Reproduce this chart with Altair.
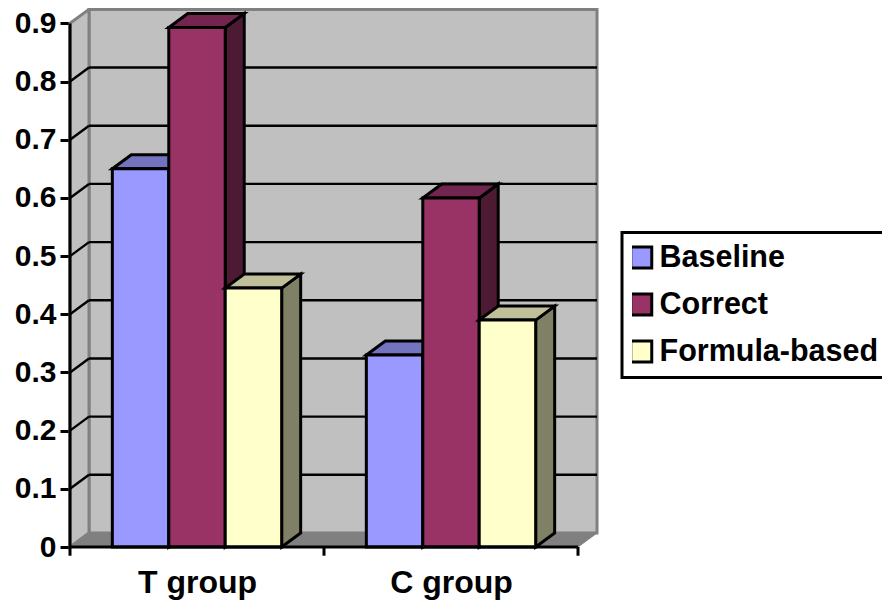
import altair as alt
import pandas as pd

categories = ["T group", "C group"]
series = ["Baseline", "Correct", "Formula-based"]
t_values = [0.65, 0.893, 0.445]
c_values = [0.33, 0.6, 0.39]
front_colors = ["#9999FF", "#993366", "#FFFFCC"]
top_colors = ["#7373BF", "#73264D", "#BFBF99"]
side_colors = ["#4D4D80", "#4D1A33", "#808066"]
y_ticks = [0, 0.1, 0.2, 0.3, 0.4, 0.5, 0.6, 0.7, 0.8, 0.9]

FONT = "Liberation Sans"
BAR_W = 1 / 4.5
GAP = (1 - 3 * BAR_W) / 2
DX = 19 / 254          # depth of the 3-D box, in category units
DY = 14 / 581.8        # depth of the 3-D box, in value units
XMAX = 2 + DX
YMAX = 539 / 581.8
LW = 3
GW = 2.4

xs = alt.Scale(domain=[0, XMAX], range=[0, 527], nice=False, zero=False)
ys = alt.Scale(domain=[0, YMAX], range=[539, 0], nice=False, zero=False)

x_axis = alt.Axis(
    values=[0.5, 1.5],
    labelExpr=f"datum.value < 1 ? '{categories[0]}' : '{categories[1]}'",
    domain=False, ticks=False, grid=False, labelFont=FONT, labelFontSize=32,
    labelFontWeight="bold", labelColor="black", labelPadding=20, labelAngle=0,
    title=None,
)
y_axis = alt.Axis(
    values=y_ticks, format=".1~f", domain=False, grid=False, tickSize=10,
    tickWidth=LW, tickColor="black", labelFont=FONT, labelFontSize=30,
    labelFontWeight="bold", labelColor="black", labelPadding=4, title=None,
)


def X(f="x"):
    return alt.X(f"{f}:Q", scale=xs, axis=x_axis)


def Y(f="y"):
    return alt.Y(f"{f}:Q", scale=ys, axis=y_axis)


def X2(f="x2"):
    return alt.X2(f"{f}:Q")


def Y2(f="y2"):
    return alt.Y2(f"{f}:Q")


layers = []

# back wall
back = alt.Chart(pd.DataFrame([{"x": DX, "x2": 2 + DX, "y": DY, "y2": 0.9 + DY}])).mark_rect(
    fill="#C0C0C0", stroke="#808080", strokeWidth=LW
).encode(x=X(), x2=X2(), y=Y(), y2=Y2())
layers.append(back)

# left wall
left = alt.Chart(pd.DataFrame([
    {"x": 0, "y": 0, "y2": 0.9},
    {"x": DX, "y": DY, "y2": 0.9 + DY},
])).mark_area(fill="#C0C0C0", stroke="#808080", strokeWidth=LW).encode(x=X(), y=Y(), y2=Y2())
layers.append(left)

# floor
floor = alt.Chart(pd.DataFrame([
    {"y": 0, "x": 0, "x2": 2},
    {"y": DY, "x": DX, "x2": 2 + DX},
])).mark_area(fill="#808080", stroke="#808080", strokeWidth=1, orient="horizontal").encode(
    y=Y(), x=X(), x2=X2()
)
layers.append(floor)

# gridlines
grid_vals = y_ticks[1:-1]
layers.append(alt.Chart(pd.DataFrame([
    {"x": DX, "x2": 2 + DX, "y": v + DY} for v in grid_vals
])).mark_rule(color="black", strokeWidth=GW).encode(x=X(), x2=X2(), y=Y()))
diag = []
for v in grid_vals:
    diag.append({"g": v, "x": 0, "y": v})
    diag.append({"g": v, "x": DX, "y": v + DY})
layers.append(alt.Chart(pd.DataFrame(diag)).mark_line(color="black", strokeWidth=GW).encode(
    x=X(), y=Y(), detail="g:N"
))

# bars, painted back to front, series by series
color = alt.Color(
    "series:N",
    scale=alt.Scale(domain=series, range=front_colors),
    legend=alt.Legend(
        orient="none", legendX=552, legendY=224.5, title=None, padding=10,
        fillColor="white", strokeColor="black", symbolType="square", symbolSize=441,
        symbolStrokeWidth=LW, symbolStrokeColor="black", symbolOffset=-6,
        labelFont=FONT, labelFontSize=30.5, labelFontWeight="bold", labelColor="black",
        labelOffset=3, rowPadding=16, labelLimit=400, clipHeight=30,
    ),
)
for s, name in enumerate(series):
    side, top, front = [], [], []
    for c, vals in enumerate([t_values, c_values]):
        x0 = c + GAP + s * BAR_W
        x1 = x0 + BAR_W
        v = vals[s]
        side += [
            {"g": c, "x": x1, "y": 0, "y2": v},
            {"g": c, "x": x1 + DX, "y": DY, "y2": v + DY},
        ]
        top += [
            {"g": c, "y": v, "x": x0, "x2": x1},
            {"g": c, "y": v + DY, "x": x0 + DX, "x2": x1 + DX},
        ]
        front.append({"series": name, "x": x0, "x2": x1, "y": 0, "y2": v})
    layers.append(alt.Chart(pd.DataFrame(side)).mark_area(
        fill=side_colors[s], stroke="black", strokeWidth=LW
    ).encode(x=X(), y=Y(), y2=Y2(), detail="g:N"))
    layers.append(alt.Chart(pd.DataFrame(top)).mark_area(
        fill=top_colors[s], stroke="black", strokeWidth=LW, orient="horizontal"
    ).encode(y=Y(), x=X(), x2=X2(), detail="g:N"))
    layers.append(alt.Chart(pd.DataFrame(front)).mark_bar(
        stroke="black", strokeWidth=LW
    ).encode(x=X(), x2=X2(), y=Y(), y2=Y2(), color=color))

# front axis lines and category ticks
layers.append(alt.Chart(pd.DataFrame([{"x": 0, "x2": 2, "y": 0}])).mark_rule(
    color="black", strokeWidth=LW
).encode(x=X(), x2=X2(), y=Y()))
layers.append(alt.Chart(pd.DataFrame([{"x": 0, "y": 0, "y2": 0.9}])).mark_rule(
    color="black", strokeWidth=LW
).encode(x=X(), y=Y(), y2=Y2()))
layers.append(alt.Chart(pd.DataFrame([
    {"x": v, "y": 0, "y2": -0.015} for v in [0, 1, 2]
])).mark_rule(color="black", strokeWidth=LW).encode(x=X(), y=Y(), y2=Y2()))

chart = alt.layer(*layers).properties(
    width=812,
    height=539,
    padding={"left": 62, "top": 0, "right": 0, "bottom": 55},
    autosize=alt.AutoSizeParams(type="none"),
).configure_view(stroke=None).configure_legend(strokeWidth=LW)

chart.save("out.html", embed_options={"renderer": "svg", "actions": False})
